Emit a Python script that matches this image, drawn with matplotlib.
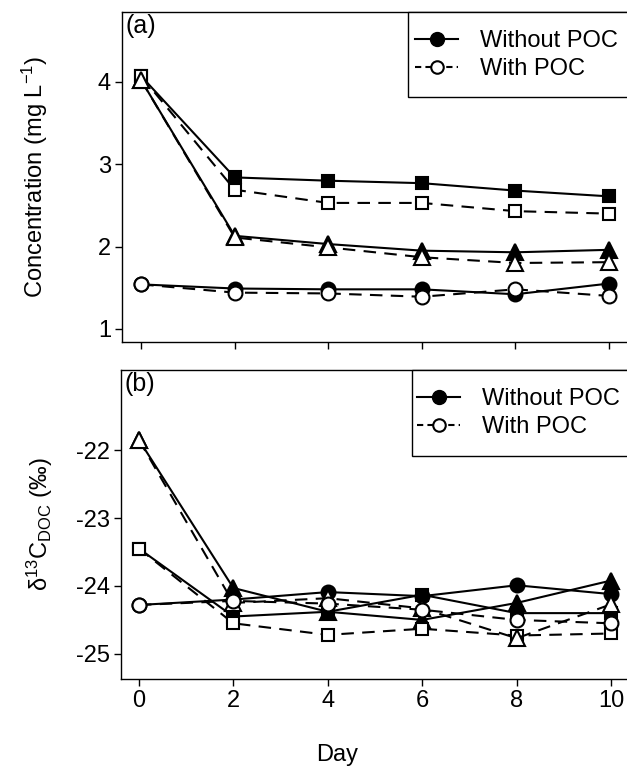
import numpy as np
import matplotlib
matplotlib.use("Agg")
import matplotlib.pyplot as plt
from matplotlib.lines import Line2D
from matplotlib.patches import Rectangle

plt.rcParams['font.family'] = ['Liberation Sans', 'DejaVu Sans']
plt.rcParams['mathtext.fontset'] = 'custom'
plt.rcParams['mathtext.rm'] = 'Liberation Sans'
plt.rcParams['mathtext.it'] = 'Liberation Sans:italic'
plt.rcParams['mathtext.default'] = 'regular'

# jours d'échantillonnage
days = [0, 2, 4, 6, 8, 10]

# (a) concentrations, mg/L
conc_sq_sans = [4.07, 2.84, 2.80, 2.77, 2.68, 2.61]
conc_sq_avec = [4.07, 2.69, 2.53, 2.53, 2.43, 2.40]
conc_tri_sans = [4.02, 2.13, 2.03, 1.95, 1.93, 1.96]
conc_tri_avec = [4.02, 2.11, 1.99, 1.87, 1.80, 1.81]
conc_ci_sans = [1.54, 1.49, 1.48, 1.48, 1.42, 1.55]
conc_ci_avec = [1.54, 1.44, 1.43, 1.39, 1.48, 1.40]

# (b) delta 13C DOC, permil
d13_sq_sans = [-23.45, -24.45, -24.38, -24.13, -24.40, -24.40]
d13_sq_avec = [-23.45, -24.55, -24.72, -24.63, -24.73, -24.70]
d13_tri_sans = [-21.85, -24.03, -24.38, -24.50, -24.25, -23.92]
d13_tri_avec = [-21.85, -24.25, -24.18, -24.33, -24.77, -24.27]
d13_ci_sans = [-24.28, -24.20, -24.09, -24.15, -23.99, -24.12]
d13_ci_avec = [-24.28, -24.22, -24.26, -24.35, -24.50, -24.55]

legend_labels = ["Without POC", "With POC"]

LW = 1.5
DASH = (0, (6, 4))
TAILLE = {'s': 9, '^': 11, 'o': 10}


def tracer(ax, y, marker, plein):
    ms = TAILLE[marker]
    if plein:
        ax.plot(days, y, color='black', lw=LW, ls='-', marker=marker, ms=ms,
                mfc='black', mec='black', mew=1.5, clip_on=False, zorder=3)
    else:
        ax.plot(days, y, color='black', lw=LW, ls=DASH, marker=marker, ms=ms,
                mfc='white', mec='black', mew=1.5, clip_on=False, zorder=4)


def legende(ax, cadre, ancre):
    # cadre dessiné à part pour placer les lignes comme dans l'original
    x0, y0 = cadre
    ax.add_patch(Rectangle((x0, y0), 1.2, 1.0 - y0, transform=ax.transAxes,
                           facecolor='white', edgecolor='black', lw=1.0,
                           clip_on=False, zorder=9))
    h = [Line2D([0], [0], color='black', lw=LW, ls='-', marker='o', ms=10,
                mfc='black', mec='black'),
         Line2D([0], [0], color='black', lw=LW, ls=(0, (3, 2)), marker='o', ms=9,
                mfc='white', mec='black', mew=1.5)]
    leg = ax.legend(h, legend_labels, loc='center left', fontsize=17,
                    frameon=False, borderaxespad=0, borderpad=0,
                    handlelength=1.82, handletextpad=0.93, labelspacing=0.25,
                    bbox_to_anchor=ancre)
    leg.set_zorder(10)


def config_ax(ax):
    for s in ax.spines.values():
        s.set_linewidth(1.0)
    ax.tick_params(direction='out', length=5, width=1.0, labelsize=17, pad=3)
    ax.set_xticks(days)


W, H = 627, 767
fig = plt.figure(figsize=(W / 100, H / 100), dpi=100)

ax1 = fig.add_axes([122 / W, 1 - 342 / H, 507 / W, 330 / H])
tracer(ax1, conc_sq_sans, 's', True)
tracer(ax1, conc_sq_avec, 's', False)
tracer(ax1, conc_tri_sans, '^', True)
tracer(ax1, conc_tri_avec, '^', False)
tracer(ax1, conc_ci_sans, 'o', True)
tracer(ax1, conc_ci_avec, 'o', False)
ax1.set_xlim(-0.41, 10.43)
ax1.set_ylim(0.84, 4.85)
ax1.set_yticks([1, 2, 3, 4])
config_ax(ax1)
ax1.set_xticklabels([])
ax1.text(0.006, 0.995, "(a)", transform=ax1.transAxes, ha='left', va='top', fontsize=18)
legende(ax1, (0.564, 0.742), (0.578, 0.870))

ax2 = fig.add_axes([121 / W, 1 - 679 / H, 508 / W, 309 / H])
tracer(ax2, d13_sq_sans, 's', True)
tracer(ax2, d13_sq_avec, 's', False)
tracer(ax2, d13_tri_sans, '^', True)
tracer(ax2, d13_tri_avec, '^', False)
tracer(ax2, d13_ci_sans, 'o', True)
tracer(ax2, d13_ci_avec, 'o', False)
ax2.set_xlim(-0.38, 10.38)
ax2.set_ylim(-25.37, -20.82)
ax2.set_yticks([-22, -23, -24, -25])
ax2.set_yticklabels(["-22", "-23", "-24", "-25"])
config_ax(ax2)
ax2.text(0.006, 0.995, "(b)", transform=ax2.transAxes, ha='left', va='top', fontsize=18)
legende(ax2, (0.573, 0.722), (0.583, 0.861))

fig.text(35 / W, 1 - 177 / H, "Concentration (mg L$^{\u22121}$)", rotation=90,
         ha='center', va='center', fontsize=17)
fig.text(40 / W, 1 - 524 / H, "\u03b4$^{13}$C$_{DOC}$ (\u2030)", rotation=90,
         ha='center', va='center', fontsize=17)
fig.text(337 / W, 1 - 755 / H, "Day", ha='center', va='center', fontsize=17)

fig.savefig("out.png", dpi=100)
